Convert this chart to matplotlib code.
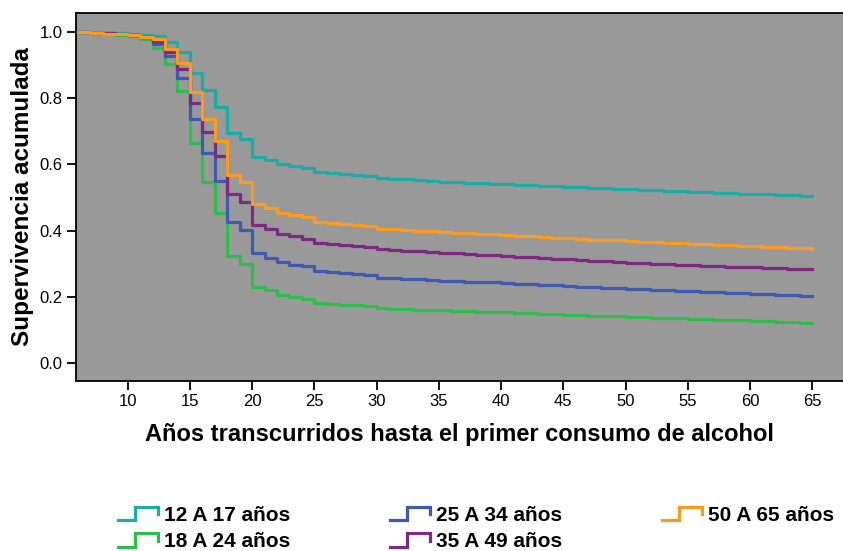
import matplotlib
matplotlib.use("Agg")
import matplotlib.pyplot as plt
from matplotlib.lines import Line2D
from matplotlib.legend_handler import HandlerBase

plt.rcParams['font.family'] = ['Liberation Sans', 'DejaVu Sans']

ages = list(range(5, 66))

labels = ["12 A 17 años", "18 A 24 años", "25 A 34 años", "35 A 49 años", "50 A 65 años"]
colors = ["#1AADA8", "#2EBD4B", "#3F5AAF", "#7D2A80", "#F99A22"]

# survival values at each age (5..65), value after the step at that age
surv_12_17 = [1.0, 1.0, .999, .998, .997, .995, .992, .987, .970, .939, .878, .824, .773, .695, .677,
              .624, .614, .601, .595, .590,
              .576, .573, .570, .568, .566, .558, .556, .555, .553, .551, .548, .547, .545, .544, .542,
              .540, .539, .537, .536, .535, .533, .531, .530, .528, .527, .525, .524, .522, .521, .520,
              .518, .517, .515, .514, .512, .511, .510, .508, .507, .505, .504]
surv_18_24 = [1.0, 1.0, .998, .995, .992, .987, .980, .953, .904, .821, .666, .546, .454, .322, .298,
              .229, .219, .204, .199, .194,
              .181, .178, .176, .174, .172, .165, .164, .163, .161, .160, .159, .158, .157, .155, .154,
              .153, .152, .150, .149, .148, .146, .144, .143, .142, .141, .139, .138, .137, .136, .135,
              .134, .133, .131, .130, .129, .128, .127, .125, .124, .122, .120]
surv_25_34 = [1.0, 1.0, .999, .997, .995, .991, .985, .965, .927, .861, .737, .634, .551, .427, .403,
              .332, .318, .305, .297, .292,
              .278, .275, .271, .268, .266, .258, .256, .254, .253, .251, .249, .247, .246, .244, .243,
              .241, .239, .238, .236, .234, .232, .230, .229, .227, .226, .224, .222, .221, .219, .218,
              .216, .215, .213, .212, .210, .209, .208, .206, .205, .203, .202]
surv_35_49 = [1.0, 1.0, .999, .997, .995, .991, .986, .969, .940, .890, .787, .698, .626, .510, .487,
              .416, .404, .391, .383, .376,
              .363, .360, .356, .353, .351, .343, .341, .339, .337, .335, .333, .331, .329, .327, .325,
              .323, .321, .319, .317, .315, .313, .311, .309, .307, .305, .303, .302, .300, .299, .297,
              .296, .294, .293, .291, .290, .289, .288, .287, .285, .284, .283]
surv_50_65 = [1.0, 1.0, .999, .996, .994, .991, .985, .978, .949, .907, .818, .738, .672, .568, .546,
              .479, .469, .454, .446, .440,
              .427, .424, .420, .416, .414, .406, .404, .402, .400, .398, .396, .394, .392, .390, .389,
              .387, .385, .383, .381, .379, .377, .375, .373, .372, .370, .368, .366, .365, .363, .361,
              .360, .358, .357, .355, .354, .352, .351, .349, .348, .346, .345]

series = [surv_12_17, surv_18_24, surv_25_34, surv_35_49, surv_50_65]

xticks = [10, 15, 20, 25, 30, 35, 40, 45, 50, 55, 60, 65]
yticks = [0.0, 0.2, 0.4, 0.6, 0.8, 1.0]

fig = plt.figure(figsize=(8.43, 5.51), dpi=100)
ax = fig.add_axes([76/843, 1 - 380.7/551, 1 - 76/843, (380.7 - 13)/551])
ax.set_facecolor("#999999")

handles = []
for i in range(len(series)):
    ln, = ax.step(ages, series[i], where='post', color=colors[i], lw=2.3, label=labels[i])
    handles.append(ln)

ax.set_xlim(5.85, 67.47)
ax.set_ylim(-0.054, 1.058)
ax.set_xticks(xticks)
ax.set_yticks(yticks)
ax.set_yticklabels([f"{v:.1f}" for v in yticks])
ax.tick_params(axis='both', direction='out', length=6.5, width=1.3, labelsize=12,
               colors='black', pad=3)
for s in ['left', 'bottom', 'top']:
    ax.spines[s].set_linewidth(1.3)
    ax.spines[s].set_color('black')
ax.spines['right'].set_visible(False)

ax.set_xlabel("Años transcurridos hasta el primer consumo de alcohol", fontsize=17,
              fontweight='bold', labelpad=10)
ax.set_ylabel("Supervivencia acumulada", fontsize=17.5, fontweight='bold', labelpad=4)


class StepHandler(HandlerBase):
    def create_artists(self, legend, orig_handle, xdescent, ydescent, width, height, fontsize, trans):
        x0 = -xdescent
        y0 = -ydescent
        xs = [x0, x0 + 0.42 * width, x0 + 0.42 * width, x0 + width, x0 + width]
        ys = [y0 + 0.05 * height, y0 + 0.05 * height, y0 + 0.95 * height, y0 + 0.95 * height,
              y0 + 0.45 * height]
        line = Line2D(xs, ys, color=orig_handle.get_color(), lw=2.3, transform=trans,
                      solid_joinstyle='miter')
        return [line]


leg = fig.legend(handles=handles, labels=labels, ncol=3, loc='upper left',
                 bbox_to_anchor=(118/843, 1 - 506/551), frameon=False,
                 prop={'weight': 'bold', 'size': 15}, handlelength=1.9, handletextpad=0.3,
                 columnspacing=4.8, labelspacing=0.35, borderpad=0, borderaxespad=0,
                 handler_map={Line2D: StepHandler()})

fig.savefig("out.png", dpi=100)
